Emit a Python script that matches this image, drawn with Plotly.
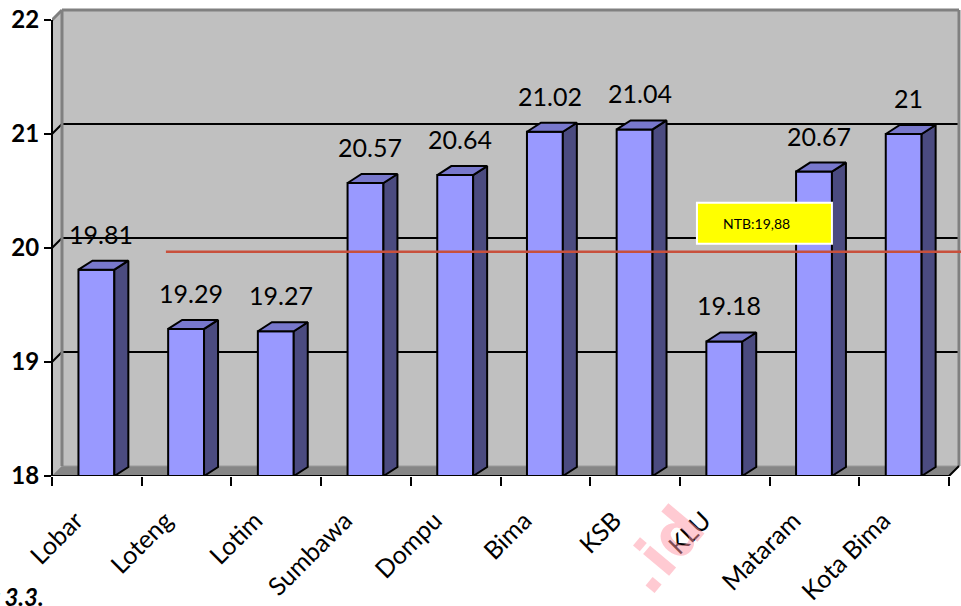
import plotly.graph_objects as go

# ---- data -------------------------------------------------------------
regions = ["Lobar", "Loteng", "Lotim", "Sumbawa", "Dompu",
           "Bima", "KSB", "KLU", "Mataram", "Kota Bima"]
values = [19.81, 19.29, 19.27, 20.57, 20.64, 21.02, 21.04, 19.18, 20.67, 21.00]
ntb_value = 19.88
ntb_label = "NTB:19,88"
y_ticks = [18, 19, 20, 21, 22]
caption = "Gambar 3.3."

# ---- geometry of the pseudo-3D frame ---------------------------------
W, H = 961, 606
M_L, M_R, M_T, M_B = 52, 0, 4, 130
PX_CAT = 89.7            # pixels per category
PX_UNIT = 114.0          # pixels per value unit
X_MIN = -0.5
X_MAX = X_MIN + (W - M_L - M_R) / PX_CAT
Y_MIN = y_ticks[0]
Y_MAX = Y_MIN + (H - M_T - M_B) / PX_UNIT
Y_TOP = y_ticks[-1]
PLOT_W, PLOT_H = W - M_L - M_R, H - M_T - M_B

WALL_DX, WALL_DY = 10 / PX_CAT, 10 / PX_UNIT     # depth of walls
BAR_DX, BAR_DY = 14 / PX_CAT, 9 / PX_UNIT        # depth of bars
BAR_L, BAR_R = -0.205, 0.195                     # front face extent

n = len(regions)
x_end = n - 0.5
bx0 = X_MIN + WALL_DX

FRONT = "#9999FF"
SIDE = "#4B4B80"
TOP = "#7878CC"
WALL = "#C0C0C0"
FLOOR = "#868686"
EDGE = "#808080"
FONT = "Lato"

shapes = []

# side wall, back wall and floor
shapes.append(dict(type="path", xref="x", yref="y", layer="below",
                   path=f"M {X_MIN},{Y_MIN} L {X_MIN},{Y_TOP} L {bx0},{Y_TOP + WALL_DY} "
                        f"L {bx0},{Y_MIN + WALL_DY} Z",
                   fillcolor=WALL, line=dict(width=0)))
shapes.append(dict(type="rect", xref="x", yref="y", layer="below",
                   x0=bx0, x1=x_end + WALL_DX, y0=Y_MIN + WALL_DY, y1=Y_TOP + WALL_DY,
                   fillcolor=WALL, line=dict(width=0)))
shapes.append(dict(type="path", xref="x", yref="y", layer="below",
                   path=f"M {X_MIN},{Y_MIN} L {bx0},{Y_MIN + WALL_DY} "
                        f"L {x_end + WALL_DX},{Y_MIN + WALL_DY} L {x_end},{Y_MIN} Z",
                   fillcolor=FLOOR, line=dict(color="#9a9a9a", width=1)))

# gridlines on the back wall and the matching strokes on the side wall
for v in y_ticks[1:-1]:
    shapes.append(dict(type="line", xref="x", yref="y", layer="below",
                       x0=bx0, x1=x_end + WALL_DX, y0=v + WALL_DY, y1=v + WALL_DY,
                       line=dict(color="black", width=2)))
    shapes.append(dict(type="line", xref="x", yref="y", layer="below",
                       x0=X_MIN, x1=bx0, y0=v, y1=v + WALL_DY,
                       line=dict(color="black", width=2)))

# wall edges
for x0, y0, x1, y1 in [
    (bx0, Y_TOP + WALL_DY, x_end + WALL_DX, Y_TOP + WALL_DY),
    (X_MIN, Y_TOP, bx0, Y_TOP + WALL_DY),
    (bx0, Y_MIN + WALL_DY, bx0, Y_TOP + WALL_DY),
    (x_end + WALL_DX, Y_MIN + WALL_DY, x_end + WALL_DX, Y_TOP + WALL_DY),
]:
    shapes.append(dict(type="line", xref="x", yref="y", layer="below",
                       x0=x0, x1=x1, y0=y0, y1=y1,
                       line=dict(color=EDGE, width=3)))

# front axis lines
shapes.append(dict(type="line", xref="paper", yref="y", layer="above",
                   x0=0, x1=0, y0=Y_MIN, y1=Y_TOP, line=dict(color="black", width=2)))
shapes.append(dict(type="line", xref="x", yref="y", layer="above",
                   x0=X_MIN, x1=x_end, y0=Y_MIN, y1=Y_MIN, line=dict(color="black", width=2)))
shapes.append(dict(type="line", xref="x", yref="y", layer="above",
                   x0=x_end, x1=x_end + WALL_DX, y0=Y_MIN, y1=Y_MIN + WALL_DY,
                   line=dict(color="black", width=2)))

# provincial average line with its label box
ntb_y = ntb_value + WALL_DY
shapes.append(dict(type="line", xref="x", yref="y", layer="above",
                   x0=0.77, x1=X_MAX, y0=ntb_y, y1=ntb_y,
                   line=dict(color="#C8503C", width=2.5)))
shapes.append(dict(type="rect", xref="x", yref="y", layer="above",
                   x0=6.69, x1=8.195, ysizemode="pixel", yanchor=ntb_y, y0=8, y1=49,
                   fillcolor="#FFFF00", line=dict(color="white", width=2)))

# ---- traces ------------------------------------------------------------
xs = list(range(n))
fig = go.Figure()

fig.add_trace(go.Bar(
    x=xs, y=[v - Y_MIN for v in values], base=Y_MIN,
    width=BAR_R - BAR_L, offset=BAR_L,
    marker=dict(color=FRONT, line=dict(color="black", width=2)),
    hoverinfo="skip", showlegend=False,
))

side_x, side_y, top_x, top_y = [], [], [], []
for i, v in zip(xs, values):
    r = i + BAR_R
    side_x += [r, r, r + BAR_DX, r + BAR_DX, r, None]
    side_y += [Y_MIN, v, v + BAR_DY, Y_MIN + BAR_DY, Y_MIN, None]
    l = i + BAR_L
    top_x += [l, l + BAR_DX, r + BAR_DX, r, l, None]
    top_y += [v, v + BAR_DY, v + BAR_DY, v, v, None]

fig.add_trace(go.Scatter(x=side_x, y=side_y, xaxis="x2", mode="lines", fill="toself",
                         fillcolor=SIDE, line=dict(color="black", width=2),
                         hoverinfo="skip", showlegend=False))
fig.add_trace(go.Scatter(x=top_x, y=top_y, xaxis="x2", mode="lines", fill="toself",
                         fillcolor=TOP, line=dict(color="black", width=2),
                         hoverinfo="skip", showlegend=False))

# ---- annotations -------------------------------------------------------
annotations = []
for i, v in zip(xs, values):
    annotations.append(dict(x=i + 0.05, y=v + BAR_DY, xref="x", yref="y",
                            text=f"{v:g}", showarrow=False, yanchor="middle", yshift=27,
                            font=dict(family=FONT, size=25, color="black")))

annotations.append(dict(x=7.35, y=ntb_y, xref="x", yref="y", text=ntb_label,
                        showarrow=False, yanchor="middle", yshift=28.5,
                        font=dict(family=FONT, size=14, color="black")))


def paper_x(px):
    return (px - M_L) / PLOT_W


def paper_y(py):
    return (H - M_B - py) / PLOT_H


annotations.append(dict(x=paper_x(46), y=paper_y(580),
                        xref="paper", yref="paper", xanchor="right", yanchor="top",
                        text=caption, showarrow=False,
                        font=dict(family=FONT, size=24, color="black", weight="bold",
                                  style="italic")))

annotations.append(dict(x=paper_x(662), y=paper_y(550),
                        xref="paper", yref="paper", xanchor="center", yanchor="middle",
                        text=".id", textangle=-50, showarrow=False,
                        font=dict(family="DejaVu Sans", size=62, weight="bold",
                                  color="rgba(255,150,165,0.5)")))

fig.update_layout(
    width=W, height=H,
    margin=dict(l=M_L, r=M_R, t=M_T, b=M_B),
    paper_bgcolor="white", plot_bgcolor="white",
    showlegend=False,
    shapes=shapes,
    annotations=annotations,
    xaxis=dict(range=[X_MIN, X_MAX], tickmode="array",
               tickvals=[k - 0.5 for k in range(n + 1)], ticktext=[""] * (n + 1),
               ticks="outside", ticklen=9, tickwidth=2, tickcolor="black",
               showgrid=False, zeroline=False, showline=False, fixedrange=True),
    xaxis2=dict(range=[X_MIN, X_MAX], overlaying="x", anchor="y", side="bottom",
                tickmode="array", tickvals=xs, ticktext=regions,
                ticks="", tickangle=-45, ticklabelshift=-21, ticklabelstandoff=24,
                tickfont=dict(family=FONT, size=25, color="black"),
                showgrid=False, zeroline=False, showline=False, fixedrange=True),
    yaxis=dict(range=[Y_MIN, Y_MAX], tickmode="array", tickvals=y_ticks,
               ticks="outside", ticklen=7, tickwidth=2, tickcolor="black",
               tickfont=dict(family=FONT, size=24, color="black", weight="bold"),
               showgrid=False, zeroline=False, showline=False, fixedrange=True),
)

fig.write_html("out.html")
